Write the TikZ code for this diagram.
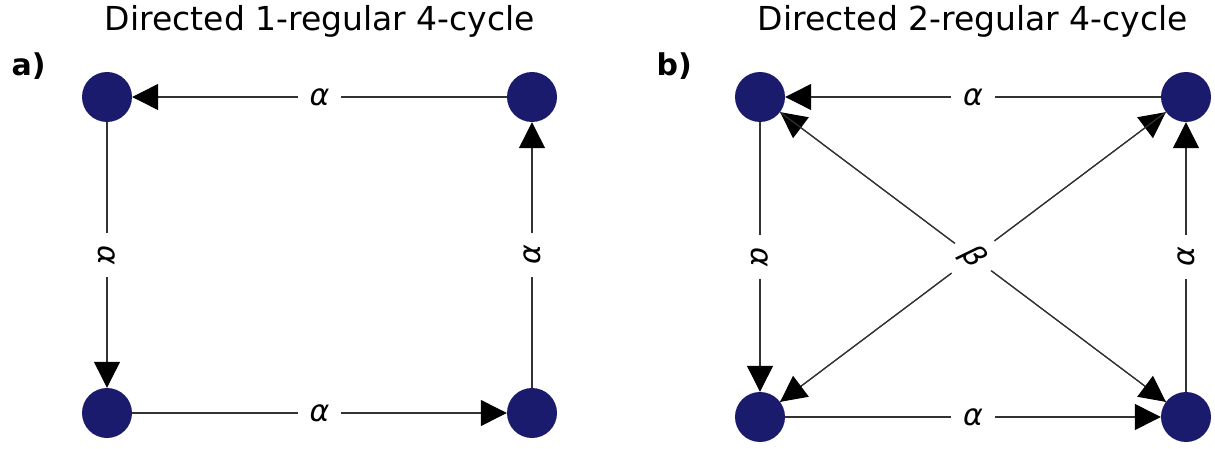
\documentclass[tikz,border=0pt]{standalone}
\usepackage{fontspec}
\setmainfont{DejaVu Sans}
\usetikzlibrary{arrows.meta}
\definecolor{vnavy}{HTML}{1B1B6E}
\definecolor{edgegray}{HTML}{333333}
\begin{document}
\begin{tikzpicture}[x=1pt,y=-1pt,
  vert/.style={circle,fill=vnavy,inner sep=0pt,minimum size=50pt},
  conn/.style={draw=edgegray,line width=1.2pt,-{Triangle[length=26pt,width=26pt,fill=black,color=black]}},
  lbl/.style={fill=white,inner sep=12pt,font=\fontsize{30}{32}\selectfont\itshape},
  ttl/.style={anchor=base,font=\fontsize{33}{35}\selectfont},
  tag/.style={anchor=base west,font=\fontsize{30}{32}\selectfont\bfseries}]
\useasboundingbox (0,0) rectangle (1215,449);
% titles
\node[ttl] (ta) at (320,31) {Directed 1-regular 4-cycle};
\node[ttl] (tb) at (973,31) {Directed 2-regular 4-cycle};
\node[tag] (la) at (8,76) {a)};
\node[tag] (lb) at (653,76) {b)};
% panel a
\node[vert] (a1) at (107,97) {};
\node[vert] (a2) at (532,97) {};
\node[vert] (a3) at (107,413) {};
\node[vert] (a4) at (532,413) {};
\draw[conn] (a2) -- node[lbl] (ea1) {α} (a1);
\draw[conn] (a1) -- node[lbl,rotate=-90] (ea2) {α} (a3);
\draw[conn] (a3) -- node[lbl] (ea3) {α} (a4);
\draw[conn] (a4) -- node[lbl,rotate=90] (ea4) {α} (a2);
% panel b
\node[vert] (b1) at (760,97) {};
\node[vert] (b2) at (1186,97) {};
\node[vert] (b3) at (760,417) {};
\node[vert] (b4) at (1186,417) {};
\draw[conn] (b4) -- (b1);
\draw[conn] (b1) -- (b4);
\draw[conn] (b3) -- (b2);
\draw[conn] (b2) -- (b3);
\node[lbl,rotate=-53] (eb5) at (973,257) {β};
\draw[conn] (b2) -- node[lbl] (eb1) {α} (b1);
\draw[conn] (b1) -- node[lbl,rotate=-90] (eb2) {α} (b3);
\draw[conn] (b3) -- node[lbl] (eb3) {α} (b4);
\draw[conn] (b4) -- node[lbl,rotate=90] (eb4) {α} (b2);
\end{tikzpicture}
\end{document}
